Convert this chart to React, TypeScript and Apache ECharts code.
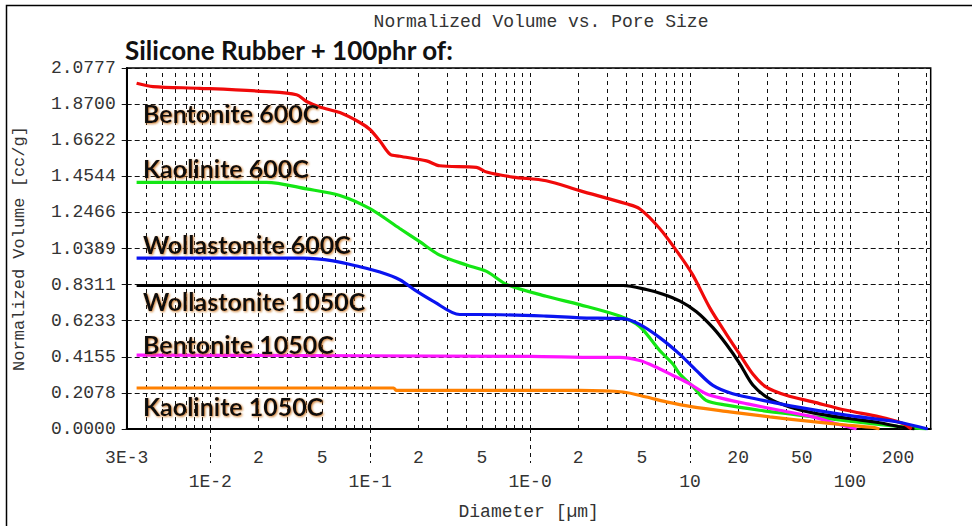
import { useEffect, useRef } from "react";
import * as echarts from "echarts";

// ---- Axis ticks ----
const xTickValues = [0.003, 0.01, 0.02, 0.05, 0.1, 0.2, 0.5, 1, 2, 5, 10, 20, 50, 100, 200];
const xTickLabels = ["3E-3", "1E-2", "2", "5", "1E-1", "2", "5", "1E-0", "2", "5", "10", "20", "50", "100", "200"];
const xDecades = [0.01, 0.1, 1, 10, 100];
const xGridValues = [
  0.004, 0.005, 0.006, 0.007, 0.008, 0.009,
  0.01, 0.02, 0.03, 0.04, 0.05, 0.06, 0.07, 0.08, 0.09,
  0.1, 0.2, 0.3, 0.4, 0.5, 0.6, 0.7, 0.8, 0.9,
  1, 2, 3, 4, 5, 6, 7, 8, 9,
  10, 20, 30, 40, 50, 60, 70, 80, 90,
  100, 200, 300,
];
const xMin = 0.003;
const xMax = 320;
const yTickLabels = ["0.0000", "0.2078", "0.4155", "0.6233", "0.8311", "1.0389", "1.2466", "1.4544", "1.6622", "1.8700", "2.0777"];
const yMax = 2.0777;
const yStep = 0.20777;

// ---- Series (diameter in µm, normalized volume in cc/g) ----
const bent600D = [0.00346, 0.00438, 0.0086, 0.0225, 0.0346, 0.04, 0.0484, 0.0646, 0.0861, 0.0996, 0.115, 0.133, 0.153, 0.225, 0.272, 0.462, 0.534, 0.778, 1.26, 2.04, 4.0, 4.84, 6.46, 8.61, 10.4, 13.3, 16.9, 20.4, 24.7, 30, 40, 58.7, 94.9, 153, 214, 243];
const bent600V = [1.99, 1.971, 1.961, 1.942, 1.924, 1.885, 1.853, 1.821, 1.764, 1.724, 1.657, 1.581, 1.57, 1.543, 1.515, 1.506, 1.479, 1.45, 1.429, 1.372, 1.296, 1.268, 1.154, 1.001, 0.887, 0.697, 0.545, 0.431, 0.317, 0.241, 0.194, 0.156, 0.108, 0.07, 0.032, 0.0];

const kao600D = [0.00346, 0.0225, 0.04, 0.0646, 0.0996, 0.153, 0.204, 0.272, 0.4, 0.534, 0.72, 1.26, 2.04, 3.63, 4.84, 6.46, 7.82, 8.61, 10.4, 12.6, 16.9, 27.2, 48, 100, 200, 300];
const kao600V = [1.42, 1.42, 1.382, 1.344, 1.268, 1.154, 1.078, 1.001, 0.944, 0.907, 0.83, 0.764, 0.716, 0.65, 0.59, 0.452, 0.374, 0.317, 0.245, 0.165, 0.137, 0.108, 0.08, 0.045, 0.015, 0.0];

const wol600D = [0.00346, 0.0381, 0.0586, 0.0861, 0.115, 0.153, 0.195, 0.247, 0.363, 0.484, 1.26, 2.04, 3.81, 4.84, 6.46, 8.61, 10.97, 13.9, 18.5, 28.6, 46.2, 94.9, 195, 307];
const wol600V = [0.983, 0.983, 0.968, 0.934, 0.903, 0.859, 0.793, 0.736, 0.659, 0.659, 0.65, 0.64, 0.635, 0.602, 0.526, 0.431, 0.336, 0.251, 0.203, 0.165, 0.127, 0.08, 0.042, 0.0];

const wol1050D = [0.00346, 3.81, 5.33, 6.78, 8.61, 10.97, 13.9, 16.9, 20.4, 24.7, 31.5, 42, 58.7, 94.9, 153, 204, 253];
const wol1050V = [0.826, 0.826, 0.803, 0.776, 0.737, 0.675, 0.583, 0.486, 0.378, 0.253, 0.173, 0.127, 0.093, 0.062, 0.036, 0.013, 0.0];

const bent1050D = [0.00346, 1.0, 2.6, 3.63, 4.84, 6.17, 7.82, 9.96, 12.6, 16.1, 22.5, 36.3, 58.7, 78.2, 110];
const bent1050V = [0.425, 0.418, 0.412, 0.412, 0.394, 0.355, 0.308, 0.26, 0.203, 0.175, 0.146, 0.108, 0.07, 0.036, 0.0];

const kao1050D = [0.00346, 0.14, 0.146, 2.04, 3.81, 5.33, 7.11, 10.4, 17.7, 31.5, 58.7, 94.9, 139, 153];
const kao1050V = [0.236, 0.236, 0.222, 0.222, 0.213, 0.184, 0.156, 0.127, 0.099, 0.07, 0.042, 0.023, 0.009, 0.0];

const seriesNames = ["Kaolinite 600C", "Wollastonite 1050C", "Bentonite 600C", "Bentonite 1050C", "Kaolinite 1050C", "Wollastonite 600C"];
const seriesColors = ["#14e614", "#000000", "#f00a0a", "#ff14ff", "#ff8000", "#0a14f0"];
const seriesD = [kao600D, wol1050D, bent600D, bent1050D, kao1050D, wol600D];
const seriesV = [kao600V, wol1050V, bent600V, bent1050V, kao1050V, wol600V];

const chartTitle = "Normalized Volume vs. Pore Size";
const subTitle = "Silicone Rubber + 100phr of:";
const xName = "Diameter [µm]";
const yName = "Normalized Volume [cc/g]";
const annotationNames = ["Bentonite 600C", "Kaolinite 600C", "Wollastonite 600C", "Wollastonite 1050C", "Bentonite 1050C", "Kaolinite 1050C"];
const annotationY = [113, 168, 244, 301, 344, 406];

const lg = (v: number) => Math.log10(v);

export default function App() {
  const ref = useRef<HTMLDivElement>(null);
  useEffect(() => {
    if (!ref.current) return;
    const chart = echarts.init(ref.current, null, { renderer: "svg" });
    const mono = "'Liberation Mono', 'DejaVu Sans Mono', monospace";
    const labelFont = "bold 25px Lato, 'Open Sans', sans-serif";
    const subFont = "bold 26px Lato, 'Open Sans', sans-serif";
    const shadow = {
      textShadowColor: "rgba(200,110,20,0.85)",
      textShadowBlur: 2,
      textShadowOffsetX: 1,
      textShadowOffsetY: 1,
    };

    const series: any[] = seriesNames.map((name, i) => ({
      name,
      type: "line",
      data: seriesD[i].map((d, j) => [lg(d), seriesV[i][j]]),
      showSymbol: false,
      symbol: "none",
      smooth: 0.3,
      lineStyle: { color: seriesColors[i], width: 3.2 },
      z: 3,
      silent: true,
    }));
    series.push({
      name: "grid",
      type: "line",
      data: [],
      silent: true,
      markLine: {
        silent: true,
        symbol: ["none", "none"],
        label: { show: false },
        z: 1,
        lineStyle: { color: "#111", width: 1, type: [4, 4] },
        emphasis: { disabled: true },
        data: xGridValues.map((v) => ({ xAxis: lg(v) })),
      },
    });

    chart.setOption({
      animation: false,
      backgroundColor: "#ffffff",
      grid: {
        left: 126.7,
        right: 41.3,
        top: 68,
        bottom: 93.7,
        show: true,
        borderColor: "#000",
        borderWidth: 1.5,
        backgroundColor: "transparent",
      },
      xAxis: {
        type: "value",
        min: lg(xMin),
        max: lg(xMax),
        name: xName,
        nameLocation: "middle",
        nameGap: 74,
        nameTextStyle: { fontFamily: mono, fontSize: 18, color: "#333" },
        axisLine: { show: true, onZero: false, lineStyle: { color: "#000", width: 2 } },
        axisTick: {
          show: true,
          customValues: xDecades.map(lg),
          length: 34,
          lineStyle: { color: "#111", width: 1, type: [4, 4] },
        },
        axisLabel: {
          customValues: xTickValues.map(lg),
          fontFamily: mono,
          fontSize: 18,
          color: "#333",
          lineHeight: 24,
          margin: 17,
          formatter: (v: number) => {
            const idx = xTickValues.findIndex((t) => Math.abs(lg(t) - v) < 1e-6);
            if (idx < 0) return "";
            const isDecade = xDecades.some((d) => Math.abs(lg(d) - v) < 1e-6);
            return isDecade ? "\n" + xTickLabels[idx] : xTickLabels[idx];
          },
        },
        splitLine: { show: false },
      },
      yAxis: {
        type: "value",
        min: 0,
        max: yMax,
        interval: yStep,
        name: yName,
        nameLocation: "middle",
        nameGap: 99,
        nameRotate: 90,
        nameTextStyle: { fontFamily: mono, fontSize: 17, color: "#333" },
        axisLine: { show: true, onZero: false, lineStyle: { color: "#000", width: 2 } },
        axisTick: { show: true, length: 5, lineStyle: { color: "#111" } },
        axisLabel: {
          fontFamily: mono,
          fontSize: 18,
          color: "#333",
          margin: 11,
          padding: [5, 0, 0, 0],
          formatter: (v: number) => yTickLabels[Math.round(v / yStep)] ?? "",
        },
        splitLine: { show: true, lineStyle: { color: "#111", width: 1, type: [5, 3] } },
      },
      graphic: [
        {
          type: "rect",
          shape: { x: 6.5, y: 5.5, width: 1000, height: 600 },
          style: { fill: "none", stroke: "#000", lineWidth: 1.5 },
          silent: true,
          z: -10,
        },
        {
          type: "text",
          x: 541,
          y: 21.5,
          style: { text: chartTitle, font: `18px ${mono}`, fill: "#333", align: "center", verticalAlign: "middle" },
          silent: true,
        },
        {
          type: "text",
          x: 125,
          y: 50,
          style: { text: subTitle, font: subFont, fill: "#111", align: "left", verticalAlign: "middle" },
          silent: true,
        },
        ...annotationNames.map((t, i) => ({
          type: "text",
          x: 143,
          y: annotationY[i],
          z: 10,
          style: { text: t, font: labelFont, fill: "#111", align: "left", verticalAlign: "middle", ...shadow },
          silent: true,
        })),
      ],
      series,
    });
    return () => chart.dispose();
  }, []);
  return (
    <div
      ref={ref}
      style={{ position: "fixed", left: 0, top: 0, width: 972, height: 526, background: "#fff" }}
    />
  );
}
